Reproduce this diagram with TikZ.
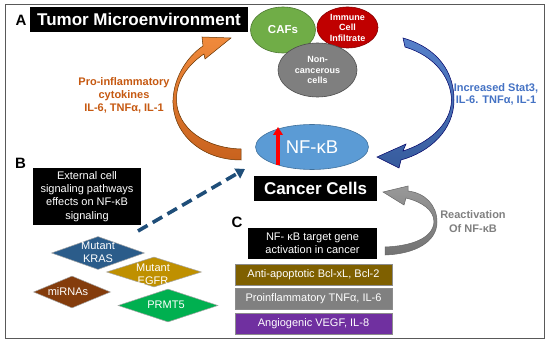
\documentclass[tikz,border=0pt]{standalone}
\usepackage{fontspec}
\setmainfont{Liberation Sans}
\usetikzlibrary{shapes.geometric,arrows.meta}
\definecolor{cafgreen}{HTML}{70AD47}
\definecolor{immred}{HTML}{C00000}
\definecolor{ncgray}{HTML}{7F7F7F}
\definecolor{nfblue}{HTML}{5B9BD5}
\definecolor{nfedge}{HTML}{41719C}
\definecolor{krasblue}{HTML}{2B5C8A}
\definecolor{egfrgold}{HTML}{BF9000}
\definecolor{mirbrown}{HTML}{843C0C}
\definecolor{prmtgreen}{HTML}{00B050}
\definecolor{antibar}{HTML}{7F6000}
\definecolor{probar}{HTML}{808080}
\definecolor{angbar}{HTML}{7030A0}
\definecolor{dashblue}{HTML}{1F4E79}
\definecolor{orlabel}{HTML}{C65911}
\definecolor{ortop}{HTML}{F08A3C}
\definecolor{orbot}{HTML}{C8621E}
\definecolor{bllabel}{HTML}{4472C4}
\definecolor{grlabel}{HTML}{808080}
\newcommand{\myfs}[2]{\fontsize{#1}{#2}\selectfont}
\begin{document}
\begin{tikzpicture}[x=1pt,y=-1pt,
  frame/.style={draw=black!65, line width=0.8},
  blackbox/.style={rectangle, fill=black, text=white, inner sep=0, align=center},
  ell/.style={ellipse, inner sep=0, text=white, align=center, line width=0.6},
  dia/.style={diamond, inner sep=0, draw=black!35, line width=0.5},
  dialabel/.style={text=white, align=center, inner sep=0, font=\myfs{11}{13}},
  genebar/.style={rectangle, minimum width=157, minimum height=21, inner sep=0, text=white, draw=black!45, line width=0.6, font=\myfs{11}{13}},
  panel/.style={inner sep=0, font=\bfseries\myfs{15}{17}},
  lbl/.style={inner sep=0, align=center, font=\bfseries\myfs{11}{13}}
]
\useasboundingbox (0,0) rectangle (550,345);
\fill[white] (0,0) rectangle (550,345);
\draw[frame] (5,4) rectangle (544,338);

% curved block arrows
\path[top color=ortop, bottom color=orbot, draw=black!60!orange, line width=0.5]
  (241,160) .. controls (200,160) and (172,132) .. (173,100)
  .. controls (174,76) and (188,56) .. (203,46)
  -- (202,37) -- (231,38) -- (205,59) -- (204,54)
  .. controls (189,64) and (176,80) .. (176.5,100)
  .. controls (177,128) and (205,148) .. (241,149) -- cycle;
\path[top color=bllabel!90!white, bottom color=bllabel!80!black, draw=black!60!blue, line width=0.5]
  (403,38) .. controls (438,48) and (454,72) .. (454,100)
  .. controls (454,130) and (430,152) .. (401,160)
  -- (399,168) -- (377,157) -- (406,144) -- (403,151)
  .. controls (428,143) and (451,125) .. (451.5,100)
  .. controls (451,78) and (435,56) .. (405,47) -- cycle;
\path[top color=black!40, bottom color=black!55, draw=black!60, line width=0.5]
  (385,255) .. controls (415,254) and (437,242) .. (437,222)
  .. controls (437,205) and (425,193) .. (408,191)
  -- (408,186) -- (383,192) -- (404,205) -- (406,198)
  .. controls (422,202) and (434,210) .. (434,222)
  .. controls (433,238) and (412,246) .. (385,247) -- cycle;

% panel letters
\node[panel] (pa) at (21,20) {A};
\node[panel] (pb) at (20.5,163) {B};
\node[panel] (pc) at (237,222) {C};

% title
\node[blackbox, minimum width=218, minimum height=25, font=\bfseries\myfs{17}{20}] (title) at (139,19.5) {Tumor Microenvironment};

% microenvironment ellipses
\node[ell, fill=cafgreen, draw=cafgreen!70!black, minimum width=65, minimum height=46, font=\bfseries\myfs{11.5}{13}] (caf) at (283,30) {CAFs};
\node[ell, fill=immred, draw=immred!70!black, minimum width=61, minimum height=41, font=\bfseries\myfs{9}{10.5}] (imm) at (347.5,27.5) {Immune\\Cell\\Infiltrate};
\node[ell, fill=ncgray, draw=ncgray!60!black, minimum width=79, minimum height=54, font=\bfseries\myfs{9}{10.2}] (nonc) at (317.5,70) {Non-\\cancerous\\cells};

% NF-kB
\node[ell, fill=nfblue, draw=nfedge, minimum width=113, minimum height=45] (nfkb) at (312,147) {};
\node[inner sep=0, text=white, font=\myfs{18.5}{20}] (nftext) at (312,147) {NF-κB};
\coordinate (redS) at (278,165);
\coordinate (redE) at (278,127);
\draw[red, line width=3.2, -{Triangle[width=9.5pt,length=8pt]}] (redS) -- (redE);

% cancer cells
\node[blackbox, minimum width=123, minimum height=25, font=\bfseries\myfs{17}{20}] (cancer) at (315.5,188.5) {Cancer Cells};

% arrow labels
\node[lbl, text=orlabel] (orl) at (124,95) {Pro-inflammatory\\cytokines\\IL-6, TNFα, IL-1};
\node[lbl, text=bllabel, font=\bfseries\myfs{11}{12}] (bll) at (496,94) {Increased Stat3,\\IL-6. TNFα, IL-1};
\node[lbl, text=grlabel, font=\bfseries\myfs{11}{14}] (grl) at (473,222) {Reactivation\\Of NF-κB};

% B panel
\node[blackbox, minimum width=108, minimum height=57, font=\myfs{11}{13.3}] (ext) at (87,196.5) {External cell\\signaling pathways\\effects on NF-κB\\signaling};
\coordinate (dashS) at (138,231);
\coordinate (dashE) at (245,169);
\draw[dashblue, line width=3.6, dash pattern=on 11pt off 6pt, -{Triangle[width=11pt,length=9pt]}] (dashS) -- (dashE);

\node[dia, fill=krasblue, minimum width=93, minimum height=33] (kras) at (98,253) {};
\node[dialabel] (krast) at (98,252.5) {Mutant\\KRAS};
\node[dia, fill=mirbrown, minimum width=77, minimum height=32] (mir) at (72,292) {};
\node[dialabel] (mirt) at (68,292) {miRNAs};
\node[dia, fill=egfrgold, minimum width=95, minimum height=30] (egfr) at (154,272) {};
\node[dialabel] (egfrt) at (153,274) {Mutant\\EGFR};
\node[dia, fill=prmtgreen, minimum width=100, minimum height=33] (prmt) at (168,305.5) {};
\node[dialabel] (prmtt) at (166,305) {PRMT5};

% C panel
\node[blackbox, minimum width=129, minimum height=31, font=\myfs{11}{13}] (target) at (312.5,243.5) {NF- κB target gene\\activation in cancer};
\node[genebar, fill=antibar] (anti) at (313.5,274.5) {Anti-apoptotic Bcl-xL, Bcl-2};
\node[genebar, fill=probar] (proi) at (313.5,298.5) {Proinflammatory TNFα, IL-6};
\node[genebar, fill=angbar] (angi) at (313.5,323.5) {Angiogenic VEGF, IL-8};
\end{tikzpicture}
\end{document}
